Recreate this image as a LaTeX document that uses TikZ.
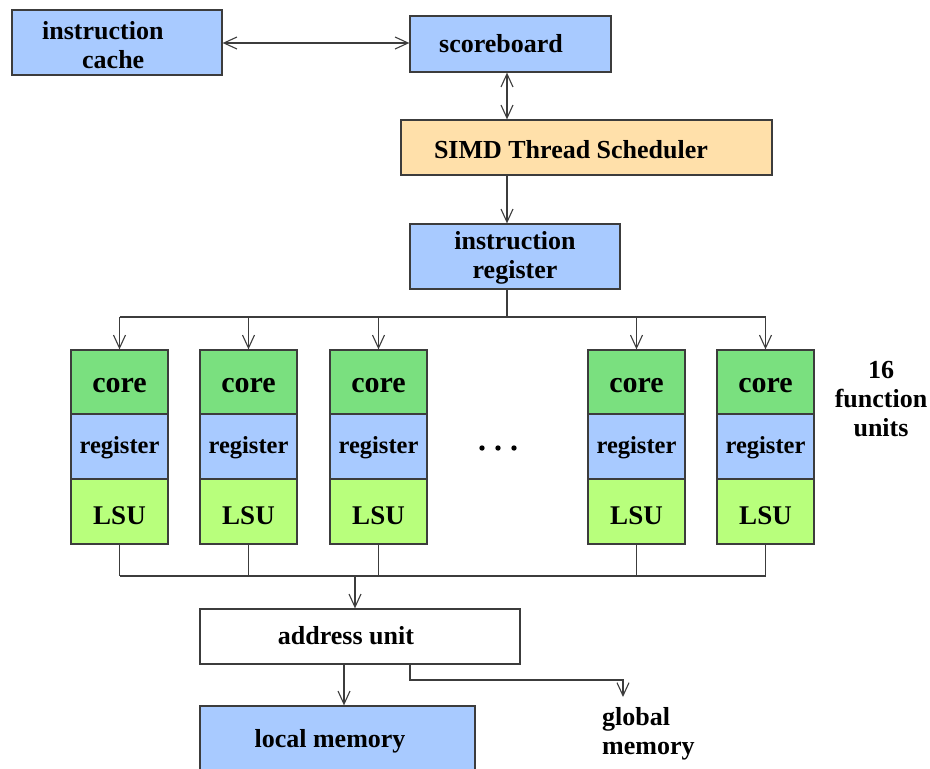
\documentclass[tikz,border=0pt]{standalone}
\usepackage{fontspec}
\setmainfont{Liberation Serif}
\usetikzlibrary{arrows.meta,calc}

\definecolor{boxblue}{HTML}{A8CAFF}
\definecolor{coregreen}{HTML}{7AE07F}
\definecolor{lsugreen}{HTML}{B8FF7C}
\definecolor{simdorange}{HTML}{FFE0AA}
\definecolor{wire}{HTML}{3C3C3C}

\tikzset{
  box/.style={draw=wire, line width=1.3pt, inner sep=0pt},
  lbl/.style={font=\bfseries\fontsize{26}{29}\selectfont, inner sep=0pt, anchor=base},
  cell/.style={box, minimum width=97pt, minimum height=65pt, text depth=0pt},
  corecell/.style={cell, fill=coregreen, minimum height=64pt, text height=20pt,
    font=\bfseries\fontsize{30}{32}\selectfont},
  regcell/.style={cell, fill=boxblue, text height=13pt,
    font=\bfseries\fontsize{24.5}{27}\selectfont},
  lsucell/.style={cell, fill=lsugreen, text height=25pt,
    font=\bfseries\fontsize{27}{30}\selectfont},
  conn/.style={draw=wire, line width=1.1pt},
  barb/.tip={Straight Barb[length=13pt,width=12pt,line width=1.1pt]},
  tip/.style={conn, -barb},
  bitip/.style={conn, barb-barb},
}

\newcommand{\stackedtext}[2][c]{\begin{tabular}[t]{@{}#1@{}}#2\end{tabular}}

\begin{document}
\begin{tikzpicture}[x=1pt, y=-1pt]
  \useasboundingbox (0,0) rectangle (930,769);
  \clip (0,0) rectangle (930,769);

  % ---- control path ----
  \node[box, fill=boxblue, minimum width=210pt, minimum height=65pt] (icache) at (117,42.5) {};
  \node[lbl, anchor=base west] (icachetxt) at (42,39) {\stackedtext[l]{instruction\\\hspace*{40pt}cache}};

  \node[box, fill=boxblue, minimum width=201pt, minimum height=56pt] (sb) at (510.5,44) {};
  \node[lbl] (sbtxt) at (501,52) {scoreboard};

  \node[box, fill=simdorange, minimum width=371pt, minimum height=55pt] (simd) at (586.5,147.5) {};
  \node[lbl] (simdtxt) at (571,158) {SIMD Thread Scheduler};

  \node[box, fill=boxblue, minimum width=210pt, minimum height=65pt] (ir) at (515,256.5) {};
  \node[lbl] (irtxt) at (515,249) {\stackedtext{instruction\\register}};

  \coordinate (spine) at (507,0);
  \coordinate (topbus) at (0,317);
  \coordinate (botbus) at (0,576);
  \coordinate (addrin) at (355,0);
  \coordinate (lmemin) at (344,0);
  \coordinate (gmout) at (410,0);

  \draw[bitip] (icache.east |- 0,43) -- (sb.west |- 0,43);
  \draw[bitip] (sb.south -| spine) -- (simd.north -| spine);
  \draw[tip] (simd.south -| spine) -- (ir.north -| spine);
  \draw[conn] (ir.south -| spine) -- (spine |- topbus);

  % ---- function units ----
  \foreach \i/\x in {1/119.5, 2/248.5, 3/378.5, 4/636.5, 5/765.5} {
    \node[corecell] (c\i) at (\x,382) {core};
    \node[regcell]  (r\i) at (\x,446.5) {register};
    \node[lsucell]  (l\i) at (\x,511.5) {LSU};
    \draw[tip] (c\i.north |- topbus) -- (c\i.north);
    \draw[conn] (l\i.south) -- (l\i.south |- botbus);
  }
  \draw[conn] (c1.north |- topbus) -- (c5.north |- topbus);
  \draw[conn] (l1.south |- botbus) -- (l5.south |- botbus);

  \fill[black] (482,448) circle (2.7pt) (498,448) circle (2.7pt) (514,448) circle (2.7pt);

  \node[lbl] (units) at (881,378) {\stackedtext{16\\function\\units}};

  % ---- memory side ----
  \node[box, fill=white, minimum width=320pt, minimum height=55pt] (addr) at (360,636.5) {};
  \node[lbl] (addrtxt) at (346,644) {address unit};

  \node[box, fill=boxblue, minimum width=275pt, minimum height=72pt] (lmem) at (337.5,742) {};
  \node[lbl] (lmemtxt) at (330,747) {local memory};

  \node[lbl, anchor=base west] (gmtxt) at (602,725) {\stackedtext[l]{global\\memory}};
  \coordinate (gm) at (623,697);

  \draw[tip] (addrin |- botbus) -- (addr.north -| addrin);
  \draw[tip] (addr.south -| lmemin) -- (lmem.north -| lmemin);
  \draw[tip] (addr.south -| gmout) |- (gm |- 0,680) -- (gm);
\end{tikzpicture}
\end{document}
